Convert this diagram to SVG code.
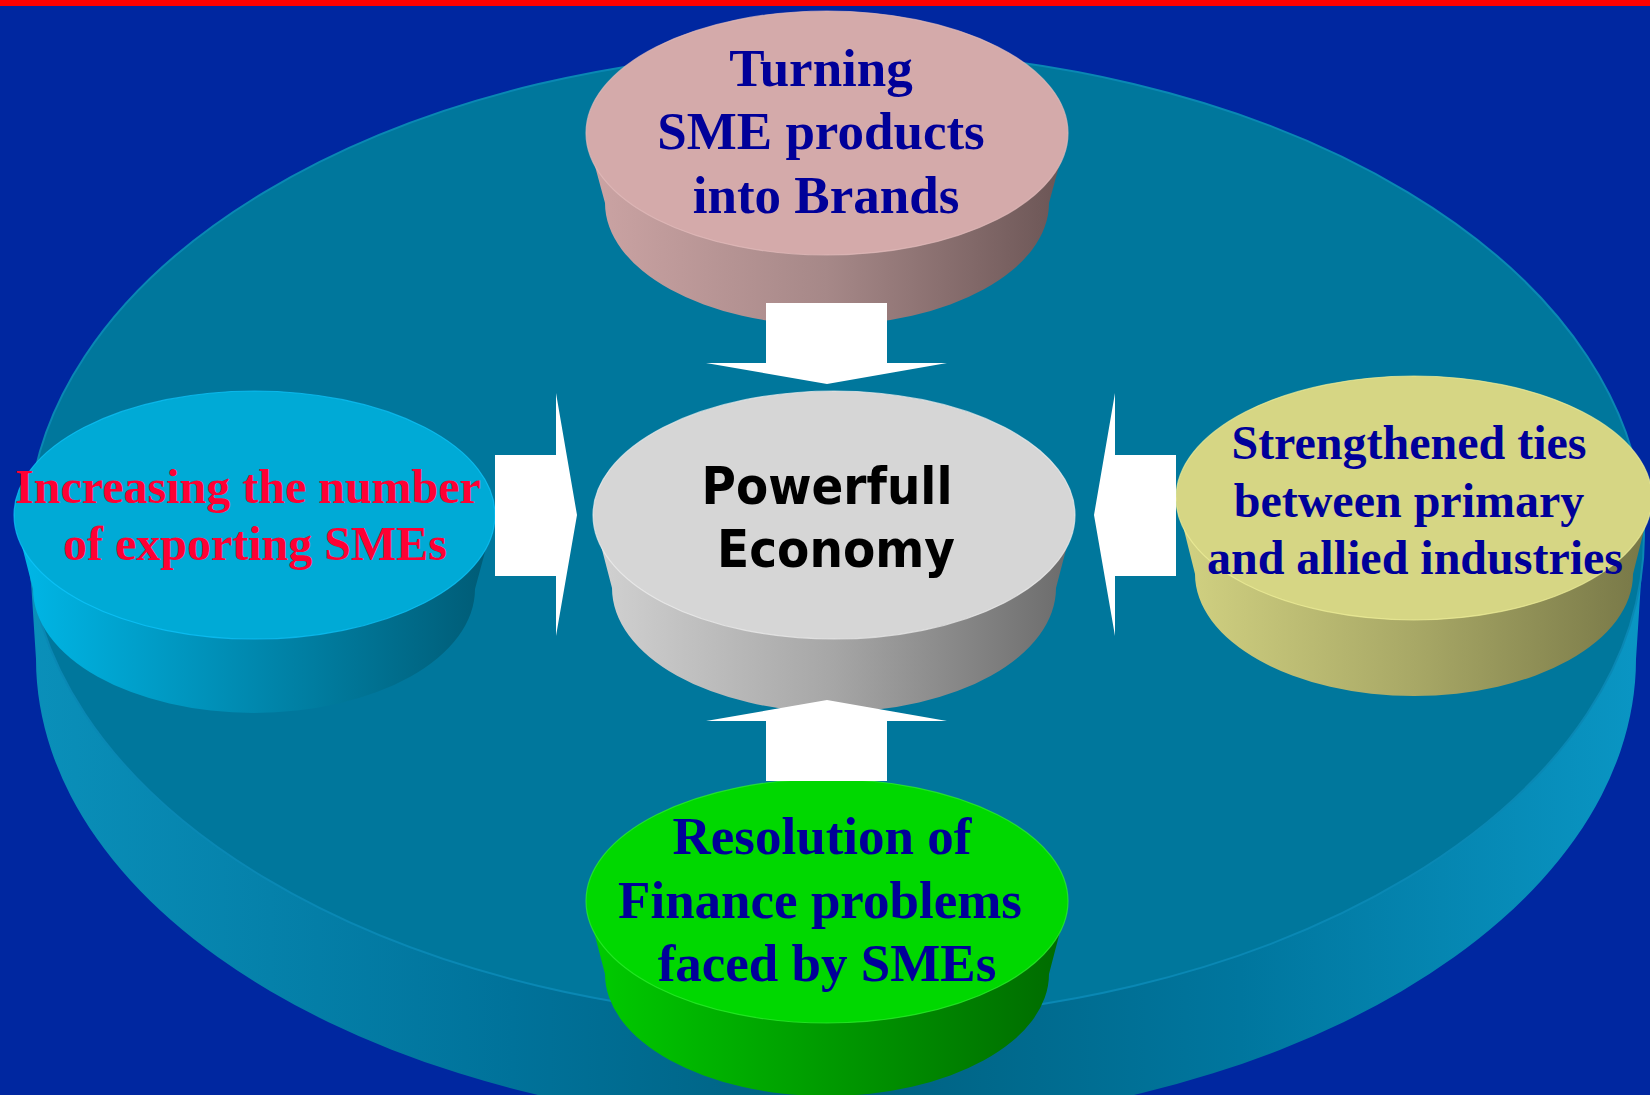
<svg xmlns="http://www.w3.org/2000/svg" width="1650" height="1095" viewBox="0 0 1650 1095">
<defs>
<style>
.t{font-family:"Liberation Serif","Times New Roman",serif;font-weight:bold;text-anchor:middle}
.navy{fill:#000099}
.red{fill:#FF0033}
.s{font-family:"DejaVu Sans",Verdana,sans-serif;font-weight:bold;text-anchor:middle;fill:#000000}
.arrow{fill:#FFFFFF}
.rim{stroke-width:1.2;stroke-opacity:0.7}
</style>
<linearGradient id="gBig" x1="0" y1="0" x2="1" y2="0">
<stop offset="0" stop-color="#0A90BA"/>
<stop offset="0.3" stop-color="#00729A"/>
<stop offset="0.5" stop-color="#006080"/>
<stop offset="0.75" stop-color="#00769E"/>
<stop offset="1" stop-color="#0A96C4"/>
</linearGradient>
<linearGradient id="gPink" x1="0" y1="0" x2="1" y2="0">
<stop offset="0" stop-color="#CCA4A4"/>
<stop offset="0.5" stop-color="#A68888"/>
<stop offset="1" stop-color="#6A5454"/>
</linearGradient>
<linearGradient id="gGray" x1="0" y1="0" x2="1" y2="0">
<stop offset="0" stop-color="#D2D2D2"/>
<stop offset="0.5" stop-color="#A6A6A6"/>
<stop offset="1" stop-color="#6A6A6A"/>
</linearGradient>
<linearGradient id="gBlue" x1="0" y1="0" x2="1" y2="0">
<stop offset="0" stop-color="#00B8E8"/>
<stop offset="0.5" stop-color="#0088AE"/>
<stop offset="1" stop-color="#005A74"/>
</linearGradient>
<linearGradient id="gYellow" x1="0" y1="0" x2="1" y2="0">
<stop offset="0" stop-color="#D2D282"/>
<stop offset="0.5" stop-color="#A8A866"/>
<stop offset="1" stop-color="#767646"/>
</linearGradient>
<linearGradient id="gGreen" x1="0" y1="0" x2="1" y2="0">
<stop offset="0" stop-color="#00CC00"/>
<stop offset="0.5" stop-color="#009A00"/>
<stop offset="1" stop-color="#006A00"/>
</linearGradient>
</defs>

<rect x="0" y="0" width="1650" height="1095" fill="#0027A0"/>
<rect x="0" y="0" width="1650" height="6" fill="#FF0000"/>

<g id="base-disc">
<path d="M28,535 L36,659 A800,470 0 0 0 1636,659 L1644,535 Z" fill="url(#gBig)"/>
<ellipse cx="836" cy="535" rx="808" ry="485" fill="#00779C" stroke="#0A88B4" stroke-width="2"/>
</g>

<g id="node-brands">
<path d="M586,133 L605,203 A222,122 0 0 0 1049,203 L1068,133 Z" fill="url(#gPink)"/>
<ellipse class="rim" cx="827" cy="133" rx="241" ry="122" fill="#D4AAAA" stroke="#E2BCBC"/>
<text class="t navy" font-size="53" x="821" y="86">Turning</text>
<text class="t navy" font-size="53" x="821" y="149">SME products</text>
<text class="t navy" font-size="53" x="826" y="213">into Brands</text>
</g>

<g id="node-exporting">
<path d="M14,515 L33,589 A221,124 0 0 0 475,589 L495,515 Z" fill="url(#gBlue)"/>
<ellipse class="rim" cx="254.5" cy="515" rx="240.5" ry="124" fill="#00AAD6" stroke="#10C8FF"/>
<text class="t red" font-size="48" x="248" y="503">Increasing the number</text>
<text class="t red" font-size="48" x="255" y="560">of exporting SMEs</text>
</g>

<g id="node-economy">
<path d="M593,515 L612,588 A222,124 0 0 0 1056,588 L1075,515 Z" fill="url(#gGray)"/>
<ellipse class="rim" cx="834" cy="515" rx="241" ry="124" fill="#D6D6D6" stroke="#F0F0F0"/>
<text class="s" font-size="52" x="827" y="504" textLength="251" lengthAdjust="spacingAndGlyphs">Powerfull</text>
<text class="s" font-size="52" x="836" y="567" textLength="238" lengthAdjust="spacingAndGlyphs">Economy</text>
</g>

<g id="node-ties">
<path d="M1176,498 L1195,574 A219,122 0 0 0 1633,574 L1652,498 Z" fill="url(#gYellow)"/>
<ellipse class="rim" cx="1414" cy="498" rx="238" ry="122" fill="#D6D684" stroke="#F0F09A"/>
<text class="t navy" font-size="48" x="1409" y="459">Strengthened ties</text>
<text class="t navy" font-size="48" x="1409" y="517">between primary</text>
<text class="t navy" font-size="48" x="1415" y="574">and allied industries</text>
</g>

<g id="node-finance">
<path d="M586,901 L605,974 A222,122 0 0 0 1049,974 L1068,901 Z" fill="url(#gGreen)"/>
<ellipse class="rim" cx="827" cy="901" rx="241" ry="122" fill="#00D800" stroke="#30F030"/>
<text class="t navy" font-size="53" x="822" y="854">Resolution of</text>
<text class="t navy" font-size="53" x="820" y="918">Finance problems</text>
<text class="t navy" font-size="53" x="827" y="981">faced by SMEs</text>
</g>

<g id="connectors">
<polygon class="arrow" points="766,303 887,303 887,363 947,363 827,384 706,363 766,363"/>
<polygon class="arrow" points="766,781 887,781 887,721 947,721 827,700 706,721 766,721"/>
<polygon class="arrow" points="495,455 556,455 556,393 577,515 556,636 556,576 495,576"/>
<polygon class="arrow" points="1176,455 1115,455 1115,393 1094,515 1115,636 1115,576 1176,576"/>
</g>
</svg>
